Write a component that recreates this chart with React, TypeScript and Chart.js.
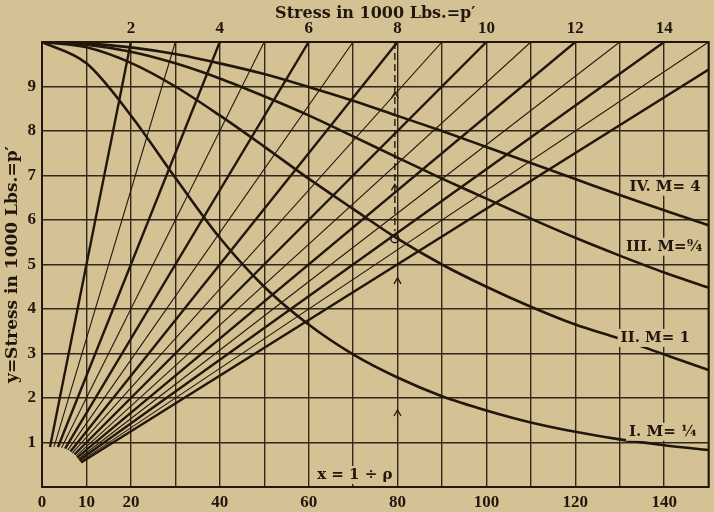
import React, { useEffect, useRef } from "react";
import { Chart, registerables } from "chart.js";

Chart.register(...registerables);

// ---- data ----
const xs = [0, 10, 20, 30, 40, 50, 60, 70, 80, 90, 100, 110, 120, 130, 140, 150];
const curveI = [10, 9.52, 8.35, 6.95, 5.6, 4.5, 3.65, 2.98, 2.46, 2.04, 1.72, 1.45, 1.24, 1.07, 0.94, 0.83];
const curveII = [10, 9.88, 9.53, 9.0, 8.35, 7.65, 6.93, 6.25, 5.58, 5.0, 4.5, 4.05, 3.65, 3.33, 2.98, 2.63];
const curveIII = [10, 9.94, 9.78, 9.52, 9.18, 8.78, 8.35, 7.88, 7.4, 6.93, 6.48, 6.03, 5.6, 5.2, 4.82, 4.48];
const curveIV = [10, 9.97, 9.88, 9.73, 9.52, 9.28, 8.99, 8.68, 8.34, 8.0, 7.64, 7.28, 6.92, 6.56, 6.22, 5.88];

const lineP = [2, 3, 4, 5, 6, 7, 8, 9, 10, 11, 12, 13, 14, 15, 16];
const lineStartX = [1.8, 2.7, 3.6, 4.4, 5.2, 5.8, 6.4, 6.8, 7.3, 7.7, 7.9, 8.2, 8.4, 8.6, 8.8];
const lineStartY = [0.9, 0.9, 0.9, 0.88, 0.86, 0.83, 0.8, 0.76, 0.73, 0.7, 0.66, 0.63, 0.6, 0.57, 0.55];
const lineEndX = [20, 30, 40, 50, 60, 70, 80, 90, 100, 110, 120, 130, 140, 150, 150];
const lineEndY = [10, 10, 10, 10, 10, 10, 10, 10, 10, 10, 10, 10, 10, 10, 9.38];

const xTickLabels = [0, 10, 20, 40, 60, 80, 100, 120, 140];
const topTickLabels = [2, 4, 6, 8, 10, 12, 14];
const yTickLabels = [1, 2, 3, 4, 5, 6, 7, 8, 9];

const dashX = [79.4, 79.4];
const dashY = [10, 5.75];
const circleX = [79.4];
const circleY = [5.58];
const arrowX = [79.4, 79.4, 80, 80];
const arrowY = [8.87, 6.8, 4.7, 1.73];

const labelTexts = ["IV. M= 4", "III. M=⁹⁄₄", "II. M= 1", "I. M= ¼", "x = 1 ÷ ρ"];
const labelX = [140.2, 140, 138, 139.7, 70.4];
const labelY = [6.75, 5.4, 3.35, 1.24, 0.27];

const PAPER = "#d4c295";
const INK = "#22170c";
const GRID = "#33271a";

export default function App() {
  const ref = useRef<HTMLCanvasElement | null>(null);

  useEffect(() => {
    if (!ref.current) return;
    const tickFont = { family: '"Liberation Serif", serif', weight: "bold" as const, size: 17 };
    const titleFont = { family: '"DejaVu Serif", serif', weight: "bold" as const, size: 16 };

    const datasets: any[] = [];
    const curves = [curveI, curveII, curveIII, curveIV];
    curves.forEach((c, i) => {
      datasets.push({
        label: "curve" + i,
        data: xs.map((x, j) => ({ x, y: c[j] })),
        borderColor: INK,
        borderWidth: 2.6,
        pointRadius: 0,
        fill: false,
        cubicInterpolationMode: "monotone",
      });
    });
    lineP.forEach((p, i) => {
      datasets.push({
        label: "p" + p,
        data: [
          { x: lineStartX[i], y: lineStartY[i] },
          { x: lineEndX[i], y: lineEndY[i] },
        ],
        borderColor: INK,
        borderWidth: p % 2 === 0 ? 2.4 : 1.1,
        pointRadius: 0,
        fill: false,
      });
    });
    datasets.push({
      label: "dash",
      data: dashX.map((x, j) => ({ x, y: dashY[j] })),
      borderColor: INK,
      borderWidth: 1.4,
      borderDash: [7, 4],
      pointRadius: 0,
      fill: false,
    });
    datasets.push({
      label: "circle",
      data: circleX.map((x, j) => ({ x, y: circleY[j] })),
      showLine: false,
      borderColor: INK,
      backgroundColor: "rgba(0,0,0,0)",
      borderWidth: 1.4,
      pointRadius: 4,
      pointStyle: "circle",
    });

    const annot = {
      id: "annot",
      afterDatasetsDraw(chart: any) {
        const ctx = chart.ctx;
        const sx = chart.scales.x;
        const sy = chart.scales.y;
        const a = chart.chartArea;
        ctx.save();
        // frame
        ctx.strokeStyle = INK;
        ctx.lineWidth = 2;
        ctx.strokeRect(a.left, a.top, a.right - a.left, a.bottom - a.top);
        // arrows
        ctx.lineWidth = 1.3;
        arrowX.forEach((x, i) => {
          const px = sx.getPixelForValue(x);
          const py = sy.getPixelForValue(arrowY[i]);
          ctx.beginPath();
          ctx.moveTo(px - 3.5, py + 6);
          ctx.lineTo(px, py);
          ctx.lineTo(px + 3.5, py + 6);
          ctx.stroke();
        });
        // labels
        ctx.font = 'bold 15px "DejaVu Serif", serif';
        ctx.textAlign = "center";
        ctx.textBaseline = "middle";
        labelTexts.forEach((t, i) => {
          const px = sx.getPixelForValue(labelX[i]);
          const py = sy.getPixelForValue(labelY[i]);
          const w = ctx.measureText(t).width;
          ctx.fillStyle = PAPER;
          ctx.fillRect(px - w / 2 - 3, py - 9, w + 6, 18);
          ctx.fillStyle = INK;
          ctx.fillText(t, px, py);
        });
        ctx.restore();
      },
    };

    const chart = new Chart(ref.current, {
      type: "line",
      data: { datasets },
      plugins: [annot],
      options: {
        animation: false,
        responsive: false,
        layout: { padding: { left: 0, right: 5, top: 0, bottom: 0 } },
        plugins: { legend: { display: false }, tooltip: { enabled: false } },
        elements: { line: { tension: 0 } },
        scales: {
          x: {
            type: "linear",
            position: "bottom",
            min: 0,
            max: 150,
            afterFit: (s: any) => {
              s.height = 25;
            },
            ticks: {
              stepSize: 10,
              autoSkip: false,
              maxRotation: 0,
              padding: 5,
              color: INK,
              font: tickFont,
              callback: (v: any) => (xTickLabels.includes(Number(v)) ? String(v) : ""),
            },
            grid: { color: GRID, lineWidth: 1.4, drawTicks: false },
            border: { display: true, color: INK, width: 2 },
          },
          x2: {
            type: "linear",
            position: "top",
            min: 0,
            max: 15,
            afterFit: (s: any) => {
              s.height = 42;
            },
            ticks: {
              stepSize: 1,
              autoSkip: false,
              maxRotation: 0,
              padding: 3,
              color: INK,
              font: tickFont,
              callback: (v: any) => (topTickLabels.includes(Number(v)) ? String(v) : ""),
            },
            grid: { display: false, drawTicks: false },
            border: { display: true, color: INK, width: 2 },
            title: {
              display: true,
              text: "Stress in 1000 Lbs.=p′",
              color: INK,
              font: titleFont,
              padding: { top: 4, bottom: 0 },
            },
          },
          y: {
            type: "linear",
            min: 0,
            max: 10,
            afterFit: (s: any) => {
              s.width = 42;
            },
            ticks: {
              stepSize: 1,
              autoSkip: false,
              padding: 6,
              color: INK,
              font: tickFont,
              callback: (v: any) => (yTickLabels.includes(Number(v)) ? String(v) : ""),
            },
            grid: { color: GRID, lineWidth: 1.4, drawTicks: false },
            border: { display: true, color: INK, width: 2 },
            title: {
              display: true,
              text: "y=Stress in 1000 Lbs.=p′",
              color: INK,
              font: { family: '"DejaVu Serif", serif', weight: "bold", size: 17 },
              padding: { top: 2, bottom: 0 },
            },
          },
        },
      },
    } as any);
    return () => chart.destroy();
  }, []);

  return (
    <div
      style={{
        position: "fixed",
        left: 0,
        top: 0,
        width: 714,
        height: 512,
        background: PAPER,
      }}
    >
      <canvas ref={ref} width={714} height={512} style={{ display: "block" }} />
    </div>
  );
}
